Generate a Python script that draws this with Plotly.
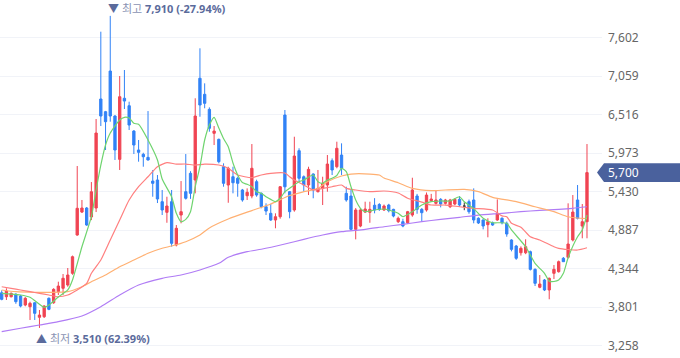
import plotly.graph_objects as go

# ---------------- data ----------------
open_ = [4006, 3950, 3950, 3984, 3960, 3833, 3809, 3865, 3660, 3668,
         3928, 3865, 4021, 4069, 4115, 4280, 4820, 5144, 5201, 5074,
         5201, 6738, 6559, 7132, 6498, 5887, 6748, 6643, 6286, 6019,
         5958, 5915, 5581, 5596, 5290, 5140, 5290, 4679, 5102, 5431,
         5690, 5596, 7030, 6804, 6592, 6254, 6169, 5783, 5525, 5642,
         5620, 5455, 5374, 5370, 5572, 5408, 5219, 5126, 5032, 5078,
         6512, 5431, 5173, 6009, 5642, 5525, 5680, 5431, 5478, 5525,
         5868, 5783, 5948, 5408, 5370, 4900, 4947, 5144, 5140, 5240,
         5250, 5173, 5243, 5182, 5008, 5008, 4993, 5102, 5370, 5182,
         5173, 5304, 5267, 5323, 5267, 5219, 5257, 5323, 5227, 5290,
         5314, 5056, 5032, 4966, 4993, 5032, 5056, 4985, 4750, 4665,
         4570, 4570, 4585, 4336, 4083, 4186, 4045, 4280, 4303, 4492,
         4506, 4750, 5314, 4947, 5008]
high = [4040, 4069, 4010, 4000, 3975, 3945, 3880, 3870, 3763, 3830,
        3940, 4070, 4162, 4270, 4355, 4530, 5793, 5314, 5215, 5567,
        6456, 7687, 6570, 7910, 6510, 7062, 7147, 6700, 6300, 6160,
        5980, 6568, 5737, 5666, 5455, 5360, 5455, 4961, 5581, 5962,
        5720, 6748, 7453, 6959, 6620, 6357, 6180, 5831, 5783, 5783,
        5642, 5470, 5478, 6103, 5600, 5420, 5267, 5260, 5126, 5510,
        6583, 5440, 6206, 6043, 5660, 5783, 5690, 5737, 5642, 5948,
        5900, 6136, 6113, 5501, 5455, 5200, 5200, 5290, 5290, 5340,
        5270, 5250, 5260, 5190, 5080, 5050, 5160, 5628, 5400, 5200,
        5420, 5400, 5455, 5340, 5330, 5330, 5340, 5370, 5280, 5320,
        5478, 5070, 5040, 5056, 5010, 5323, 5070, 5010, 4760, 4680,
        4660, 4760, 4600, 4350, 4256, 4200, 4220, 4397, 4460, 4510,
        5267, 5384, 5525, 5257, 6103]
low = [3900, 3904, 3940, 3850, 3800, 3815, 3622, 3622, 3510, 3650,
       3760, 3850, 3974, 3974, 4091, 4260, 4810, 5130, 4950, 5030,
       5144, 6357, 6019, 6418, 5878, 5737, 6597, 6301, 5962, 5854,
       5783, 5870, 5360, 5271, 5102, 4993, 4655, 4660, 4985, 5320,
       5330, 5408, 6488, 6607, 6277, 6089, 5831, 5501, 5275, 5408,
       5360, 5290, 5314, 5338, 5360, 5197, 5102, 5020, 4915, 5050,
       5408, 5056, 5149, 5572, 5431, 5384, 5338, 5420, 5243, 5431,
       5666, 5761, 5666, 5290, 4885, 4759, 4930, 5130, 4993, 5126,
       5160, 5160, 5140, 5070, 4990, 4930, 4975, 5078, 5120, 5008,
       5150, 5290, 5250, 5210, 5250, 5200, 5240, 5220, 5170, 5120,
       4985, 4975, 4900, 4788, 4950, 5020, 4970, 4796, 4590, 4470,
       4530, 4550, 4320, 4101, 4070, 4030, 3914, 4200, 4290, 4440,
       4490, 4730, 5040, 4774, 4774]
close = [3913, 4030, 3998, 3880, 3819, 3928, 3857, 3716, 3692, 3819,
         3772, 4054, 4101, 4210, 4256, 4514, 5197, 5201, 4961, 5430,
         6258, 6498, 6418, 6498, 6019, 6770, 6709, 6371, 6089, 5986,
         5924, 5878, 5549, 5328, 5173, 5229, 4703, 4915, 5149, 5338,
         5408, 6498, 6653, 6677, 6325, 6286, 5854, 5549, 5761, 5557,
         5549, 5314, 5422, 5761, 5384, 5219, 5158, 5032, 5078, 5501,
         5500, 5149, 5934, 5620, 5525, 5746, 5455, 5478, 5549, 5821,
         5737, 6043, 5761, 5314, 4900, 5173, 5173, 5187, 5182, 5173,
         5180, 5229, 5163, 5088, 5056, 4947, 5149, 5455, 5182, 5135,
         5384, 5328, 5314, 5257, 5314, 5314, 5323, 5243, 5227, 5149,
         5032, 4990, 4947, 5008, 4961, 5126, 4993, 4834, 4618, 4492,
         4633, 4655, 4336, 4139, 4129, 4045, 4210, 4336, 4444, 4444,
         4693, 5144, 5056, 5008, 5700]
days = list(range(len(close)))

ma5_idx = [0, 2, 4, 6, 9, 10, 12, 14, 15, 17, 19, 20, 21, 22, 23, 25, 26, 27, 28, 29,
           31, 33, 34, 36, 37, 38, 39, 40, 41, 42, 43, 44, 45, 46, 47, 48, 49, 50, 51, 52,
           53, 54, 55, 56, 57, 58, 59, 60, 61, 63, 64, 66, 67, 68, 69, 70, 71, 72, 73, 74,
           75, 76, 77, 79, 81, 82, 84, 85, 87, 89, 91, 93, 95, 97, 98, 100, 102, 104, 105, 107,
           108, 111, 113, 114, 115, 116, 117, 118, 119, 120, 122, 123, 124]
ma5_val = [3998, 3988, 3974, 3942, 3800, 3833, 3946, 4045, 4186, 4655, 5078, 5455, 5806, 6089, 6258, 6442, 6480, 6470, 6395, 6381,
           6160, 5878, 5610, 5360, 5126, 5008, 5041, 5149, 5501, 5783, 6160, 6371, 6480, 6329, 6180, 6065, 5835, 5666, 5560, 5535,
           5501, 5431, 5408, 5360, 5323, 5290, 5338, 5431, 5478, 5572, 5596, 5666, 5572, 5549, 5596, 5620, 5660, 5761, 5713, 5501,
           5314, 5197, 5149, 5173, 5187, 5173, 5126, 5078, 5149, 5243, 5290, 5300, 5300, 5360, 5290, 5192, 5056, 4993, 4993, 4985,
           4891, 4655, 4421, 4350, 4280, 4170, 4165, 4186, 4280, 4500, 4796, 4891, 5102]

ma20_idx = [0, 2, 4, 6, 8, 10, 12, 14, 16, 18, 19, 21, 23, 25, 27, 29, 31, 33, 35, 37,
            39, 41, 43, 46, 48, 50, 53, 55, 57, 60, 61, 62, 64, 66, 68, 70, 72, 73, 75, 78,
            81, 84, 86, 89, 91, 94, 97, 100, 104, 106, 107, 108, 110, 112, 114, 117, 118, 120, 122, 124]
ma20_val = [4091, 4069, 4045, 4021, 3998, 3974, 3950, 3974, 4045, 4139, 4280, 4468, 4750, 5032, 5314, 5501, 5642, 5783, 5840, 5821,
            5821, 5807, 5821, 5807, 5761, 5666, 5630, 5666, 5690, 5694, 5642, 5596, 5525, 5455, 5478, 5501, 5525, 5478, 5455, 5431,
            5441, 5412, 5338, 5285, 5243, 5243, 5219, 5197, 5173, 5090, 5078, 4985, 4930, 4796, 4750, 4655, 4633, 4616, 4609, 4641]

ma60_idx = [0, 3, 7, 10, 14, 17, 19, 22, 25, 28, 31, 34, 36, 39, 42, 44, 48, 53, 57, 61,
            64, 67, 69, 72, 74, 78, 80, 81, 84, 87, 91, 94, 98, 101, 104, 109, 113, 117, 120, 124]
ma60_val = [4045, 4021, 4012, 4012, 4021, 4091, 4162, 4256, 4373, 4468, 4562, 4633, 4665, 4726, 4820, 4920, 5046, 5165, 5257, 5377,
            5431, 5478, 5572, 5652, 5680, 5680, 5666, 5624, 5558, 5478, 5445, 5455, 5464, 5431, 5352, 5290, 5219, 5149, 5078, 5050]

ma120_idx = [0, 4, 8, 12, 17, 21, 25, 29, 34, 38, 42, 46, 48, 52, 55, 60, 64, 68, 72, 77,
             81, 85, 89, 93, 97, 101, 106, 110, 114, 118, 121, 124]
ma120_val = [3457, 3505, 3551, 3598, 3678, 3809, 3974, 4115, 4210, 4256, 4327, 4421, 4506, 4585, 4619, 4693, 4759, 4820, 4867, 4900,
             4937, 4971, 5008, 5041, 5070, 5102, 5126, 5149, 5168, 5182, 5197, 5219]

tick_vals = [3258, 3801, 4344, 4887, 5430, 5973, 6516, 7059, 7602]
tick_text = [f"{v:,}" for v in tick_vals]

high_label = "최고"
high_pct = "-27.94%"
low_label = "최저"
low_pct = "62.39%"

# ---------------- styling ----------------
RED = "#f04452"
BLUE = "#3182f6"
FONT = "Noto Sans, Noto Sans CJK KR, sans-serif"

hi_i = max(days, key=lambda i: high[i])
lo_i = min(days, key=lambda i: low[i])
last = close[-1]

reg = [i for i in days if open_[i] != close[i]]
doji = [i for i in days if open_[i] == close[i]]

fig = go.Figure()

ma_specs = [
    (ma120_idx, ma120_val, "#b07cf5"),
    (ma60_idx, ma60_val, "#ffb072"),
    (ma20_idx, ma20_val, "#ff7f7f"),
    (ma5_idx, ma5_val, "#6fd46f"),
]
for xs, ys, col in ma_specs:
    fig.add_trace(go.Scatter(x=xs, y=ys, mode="lines", line=dict(color=col, width=1.2, shape="spline", smoothing=0.6),
                             hoverinfo="skip", showlegend=False))

fig.add_trace(go.Candlestick(
    x=[days[i] for i in reg], open=[open_[i] for i in reg], high=[high[i] for i in reg],
    low=[low[i] for i in reg], close=[close[i] for i in reg],
    increasing=dict(line=dict(color=RED, width=1), fillcolor=RED),
    decreasing=dict(line=dict(color=BLUE, width=1), fillcolor=BLUE),
    whiskerwidth=0, showlegend=False))
if doji:
    fig.add_trace(go.Candlestick(
        x=[days[i] for i in doji], open=[open_[i] for i in doji], high=[high[i] for i in doji],
        low=[low[i] for i in doji], close=[close[i] for i in doji],
        increasing=dict(line=dict(color="#333333", width=1), fillcolor="#333333"),
        decreasing=dict(line=dict(color="#333333", width=1), fillcolor="#333333"),
        whiskerwidth=0, showlegend=False))

fig.add_annotation(
    x=hi_i, y=high[hi_i], xref="x", yref="y", xanchor="left", yanchor="bottom", xshift=-4, yshift=-2,
    showarrow=False,
    text=(f"<span style='color:#5b6b9c'>▼</span> <span style='color:#8a93b3'>{high_label}</span> "
          f"<b><span style='color:#5b6b9c'>{high[hi_i]:,} ({high_pct})</span></b>"),
    font=dict(family=FONT, size=11))
fig.add_annotation(
    x=lo_i, y=low[lo_i], xref="x", yref="y", xanchor="left", yanchor="top", xshift=-5, yshift=-1,
    showarrow=False,
    text=(f"<span style='color:#5b6b9c'>▲</span> <span style='color:#8a93b3'>{low_label}</span> "
          f"<b><span style='color:#5b6b9c'>{low[lo_i]:,} ({low_pct})</span></b>"),
    font=dict(family=FONT, size=11))

# current-price tag on the right axis
W = 602.0
half = 9.3 * 14.1
fig.add_shape(type="path", xref="paper", yref="y",
              path=(f"M {597/W},{last} L {604/W},{last+half} L {1.2},{last+half} "
                    f"L {1.2},{last-half} L {604/W},{last-half} Z"),
              fillcolor="#4a619d", line=dict(width=0), layer="above")
fig.add_annotation(x=606 / W, y=last, xref="paper", yref="y", xanchor="left", yanchor="middle",
                   showarrow=False, text=f"{last:,}", font=dict(family=FONT, size=12, color="white"))

fig.update_layout(
    width=680, height=358,
    margin=dict(l=0, r=78, t=0, b=0),
    paper_bgcolor="white", plot_bgcolor="white",
    showlegend=False,
    xaxis=dict(range=[-0.36, 127.18], visible=False, rangeslider=dict(visible=False), fixedrange=True),
    yaxis=dict(range=[3086, 8134], side="right", tickvals=tick_vals, ticktext=tick_text,
               showgrid=True, gridcolor="#f1f3f8", gridwidth=1, zeroline=False, showline=False,
               ticks="", ticklabelstandoff=5, fixedrange=True,
               tickfont=dict(family=FONT, size=12, color="#666666")),
)

fig.write_html("out.html", config={"displayModeBar": False},
               post_script="document.body.style.margin='0';document.body.style.overflow='hidden';")
